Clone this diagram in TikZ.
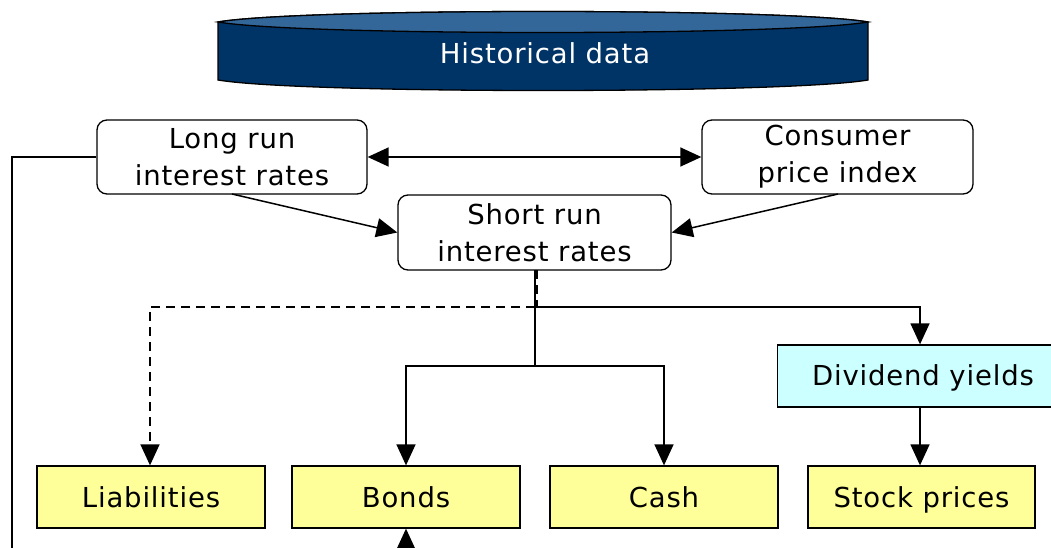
\documentclass[tikz,border=0pt]{standalone}
\usepackage{fontspec}
\setmainfont{DejaVu Sans}[LetterSpace=3]
\usetikzlibrary{arrows.meta}
\definecolor{navy}{HTML}{003366}
\definecolor{navytop}{HTML}{336699}
\definecolor{yel}{HTML}{FFFF99}
\definecolor{cyanbox}{HTML}{CCFFFF}
\tikzset{
  every picture/.style={x=1pt,y=-1pt},
  big/.style={font=\fontsize{27.5}{37}\selectfont},
  rbox/.style={draw,line width=1.3pt,rounded corners=10pt,fill=white,align=center,inner sep=0pt,big},
  ybox/.style={draw,line width=1.3pt,fill=yel,inner sep=0pt,big,text height=21pt,text depth=1pt},
  tip/.tip={Triangle[length=21pt,width=19pt]},
  con/.style={line width=1.5pt,-tip},
  dcon/.style={con,dash pattern=on 9pt off 6pt},
  plain/.style={line width=1.5pt}
}
\begin{document}
\begin{tikzpicture}
\useasboundingbox (0,0) rectangle (1051,548);
\clip (0,0) rectangle (1051,548);
% cylinder
\draw[line width=1.3pt,fill=navy] (218,22) .. controls (300,8) and (786,8) .. (868,22) -- (868,80) .. controls (786,94) and (300,94) .. (218,80) -- cycle;
\draw[line width=1.3pt,fill=navytop] (218,22) .. controls (300,8) and (786,8) .. (868,22) .. controls (786,36) and (300,36) .. (218,22) -- cycle;
\node[text=white,big] (hist) at (545,53) {Historical data};
% boxes
\node[rbox,minimum width=270pt,minimum height=74pt] (lr) at (232,157) {Long run\\interest rates};
\node[rbox,minimum width=271pt,minimum height=74pt] (cpi) at (837.5,157) {Consumer\\price index};
\node[rbox,minimum width=273pt,minimum height=75pt] (sr) at (534.5,232.5) {Short run\\interest rates};
\node[draw,line width=1.3pt,fill=cyanbox,minimum width=300pt,minimum height=62pt,inner sep=0pt,anchor=west] (dy) at (777,376) {};
\node[big,text height=19pt,text depth=1pt,inner sep=0pt] (dyt) at (923,376) {Dividend yields};
\node[ybox,minimum width=228pt,minimum height=62pt] (li) at (151,497) {Liabilities};
\node[ybox,minimum width=228pt,minimum height=62pt] (bo) at (406,497) {Bonds};
\node[ybox,minimum width=228pt,minimum height=62pt] (ca) at (664,497) {Cash};
\node[ybox,minimum width=227pt,minimum height=62pt] (st) at (921.5,497) {Stock prices};
% coordinates
\coordinate (lleft) at (12,157);
\coordinate (lbot) at (12,560);
\coordinate (srb) at (535,270);
\coordinate (j1) at (535,307);
\coordinate (j2) at (535,366);
\coordinate (dR) at (920,307);
\coordinate (dd1) at (537,270);
\coordinate (dd2) at (537,307);
\coordinate (dL) at (150,307);
\coordinate (bsrc) at (406,560);
% connectors
\draw[line width=1.5pt,tip-tip] (lr.east) -- (cpi.west);
\draw[con] (232,194) -- (sr.west);
\draw[con] (838,194) -- (sr.east);
\draw[plain] (lr.west) -- (lleft) -- (lbot);
\draw[plain] (srb) -- (j2);
\draw[con] (j2) -| (bo.north);
\draw[con] (j2) -| (ca.north);
\draw[con] (j1) -| (dy.north -| dR);
\draw[plain,dash pattern=on 9pt off 6pt] (dd1) -- (dd2);
\draw[dcon] (j1) -| (li.north -| dL);
\draw[con] (dy.south -| dR) -- (st.north -| dR);
\draw[con] (bsrc) -- (bo.south);
\end{tikzpicture}
\end{document}
